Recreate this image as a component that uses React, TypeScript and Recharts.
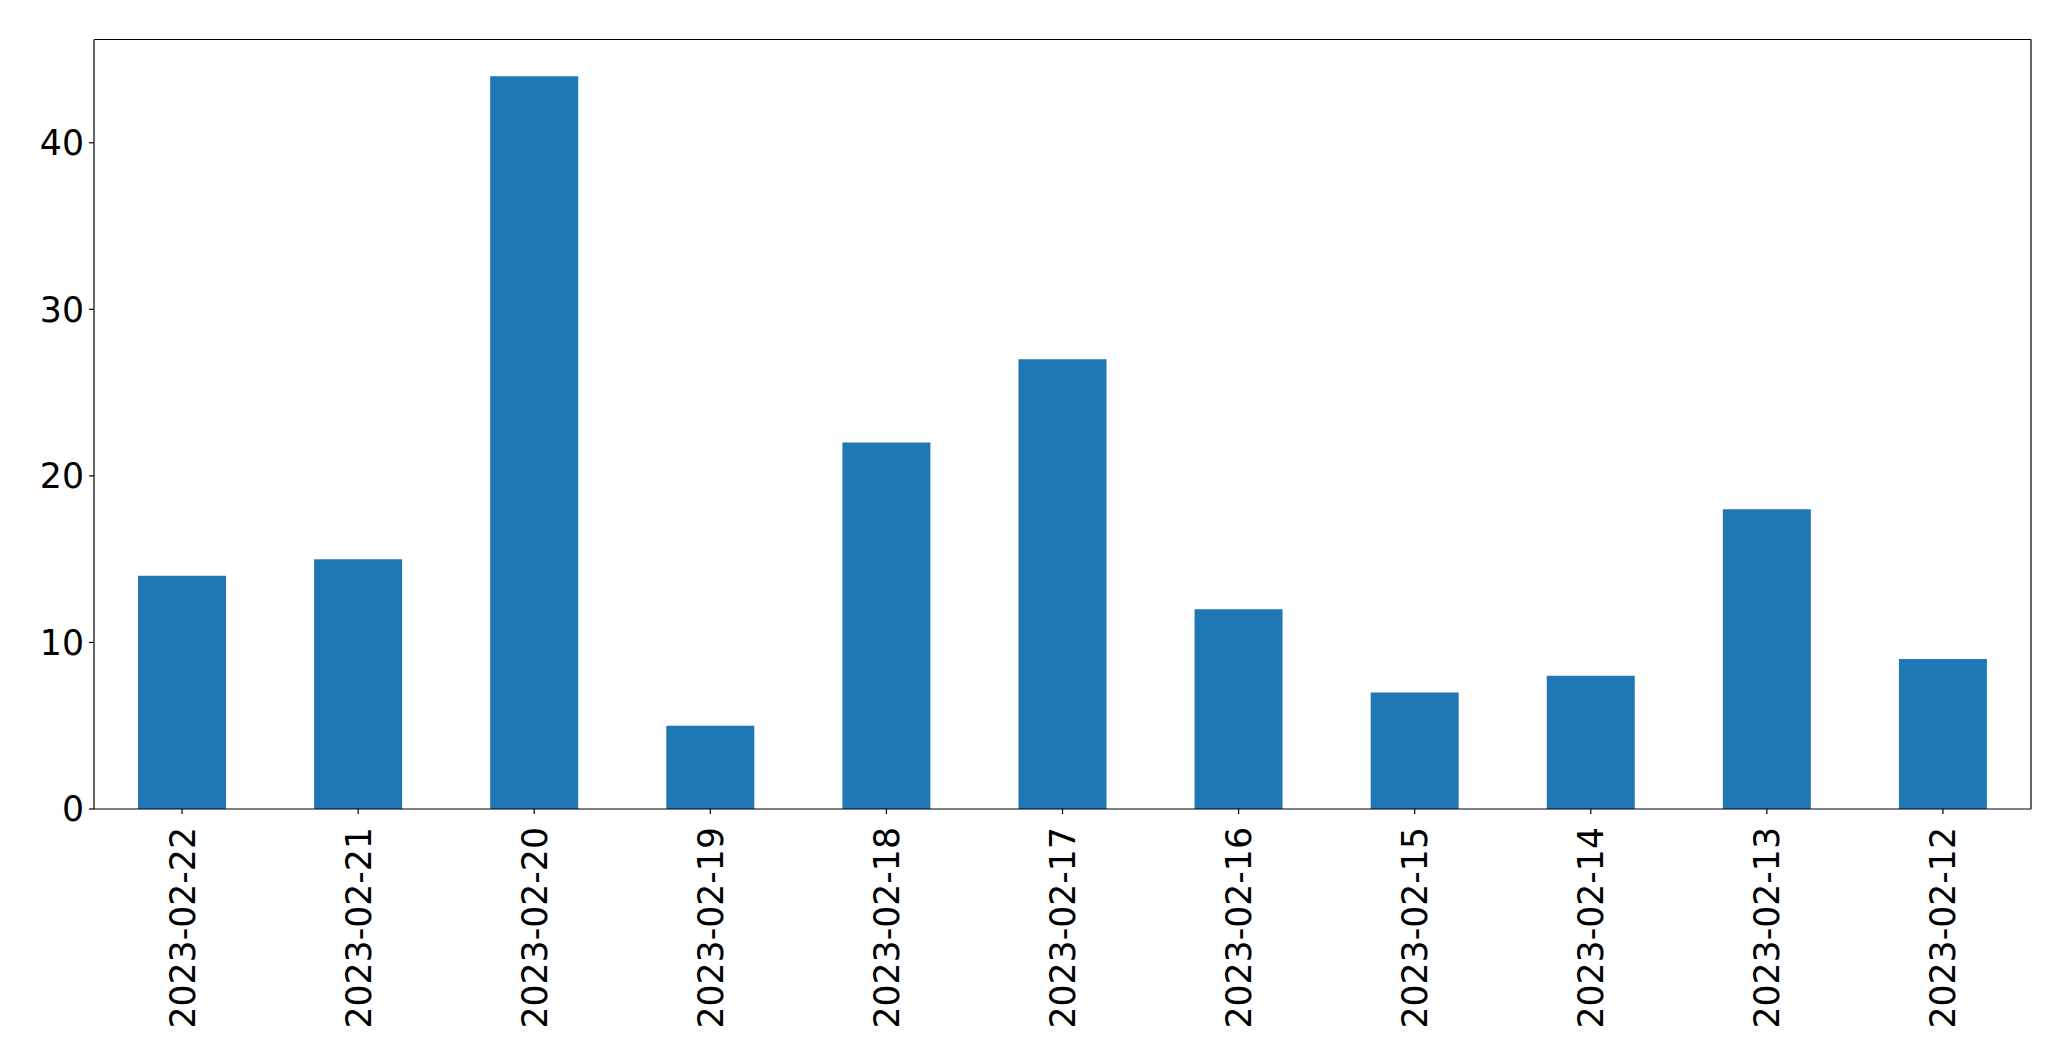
import React from "react"
import { BarChart, Bar, XAxis, YAxis, CartesianGrid } from "recharts"

const dates = [
  "2023-02-22",
  "2023-02-21",
  "2023-02-20",
  "2023-02-19",
  "2023-02-18",
  "2023-02-17",
  "2023-02-16",
  "2023-02-15",
  "2023-02-14",
  "2023-02-13",
  "2023-02-12",
]
const counts = [14, 15, 44, 5, 22, 27, 12, 7, 8, 18, 9]
const yTicks = [0, 10, 20, 30, 40]

const FONT = "DejaVu Sans"
const FONT_SIZE = 34.7
const LINE = { stroke: "#000", strokeWidth: 1.2 }

const RotatedTick = (props: any) => {
  const { x, y, payload } = props
  return (
    <text
      x={0}
      y={0}
      transform={`translate(${x},${y + 11}) rotate(-90)`}
      textAnchor="end"
      dy="0.36em"
      fontFamily={FONT}
      fontSize={FONT_SIZE}
      fill="#000"
    >
      {payload.value}
    </text>
  )
}

export default function App() {
  const data = dates.map((date, i) => ({ date, value: counts[i] }))

  return (
    <div style={{ position: "absolute", left: 0, top: 0, background: "#fff" }}>
      <BarChart
        width={2071}
        height={1061}
        data={data}
        margin={{ top: 39.5, right: 40, left: 0, bottom: 0 }}
        barCategoryGap="25%"
      >
        {/* top and right spines */}
        <CartesianGrid
          stroke="#000"
          strokeWidth={1.2}
          horizontalCoordinatesGenerator={({ offset }: any) => [offset.top]}
          verticalCoordinatesGenerator={({ offset }: any) => [offset.left + offset.width]}
        />
        <XAxis
          dataKey="date"
          height={252}
          interval={0}
          tick={<RotatedTick />}
          tickSize={5}
          axisLine={LINE}
          tickLine={LINE}
        />
        <YAxis
          width={94}
          domain={[0, 46.2]}
          ticks={yTicks}
          allowDataOverflow
          tickSize={5}
          tickMargin={5}
          tick={{ fontFamily: FONT, fontSize: FONT_SIZE, fill: "#000" }}
          axisLine={LINE}
          tickLine={LINE}
        />
        <Bar dataKey="value" fill="#1f77b4" isAnimationActive={false} />
      </BarChart>
    </div>
  )
}
